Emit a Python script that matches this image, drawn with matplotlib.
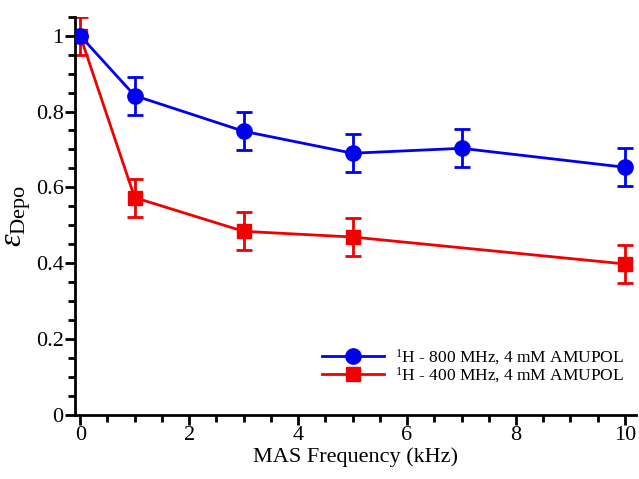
import numpy as np
import matplotlib
matplotlib.use('Agg')
import matplotlib.pyplot as plt
from matplotlib.lines import Line2D
from matplotlib.ticker import MultipleLocator, FuncFormatter

plt.rcParams['font.family'] = ['Liberation Serif', 'DejaVu Serif']
plt.rcParams['mathtext.fontset'] = 'custom'
plt.rcParams['mathtext.rm'] = 'Liberation Serif'
plt.rcParams['mathtext.it'] = 'Liberation Serif:italic'

# data
freq_800 = [0, 1, 3, 5, 7, 10]
eps_800 = [1.0, 0.842, 0.748, 0.690, 0.703, 0.653]
err_800 = [0.0, 0.05, 0.05, 0.05, 0.05, 0.05]

freq_400 = [0, 1, 3, 5, 10]
eps_400 = [1.0, 0.573, 0.484, 0.469, 0.398]
err_400 = [0.05, 0.05, 0.05, 0.05, 0.05]

label_800 = r'$^{1}$H - 800 MHz, 4 mM AMUPOL'
label_400 = r'$^{1}$H - 400 MHz, 4 mM AMUPOL'

blue = '#0000f0'
red = '#f00000'

fig = plt.figure(figsize=(6.39, 4.79), dpi=100)
ax = fig.add_axes([0.117, 0.134, 0.878, 0.831])

ax.errorbar(freq_800, eps_800, yerr=err_800, color=blue, marker='o', markersize=11,
            linewidth=2, elinewidth=2, capsize=6, capthick=2, zorder=3)
ax.errorbar(freq_400, eps_400, yerr=err_400, color=red, marker='s', markersize=10,
            linewidth=2, elinewidth=2, capsize=6, capthick=2, zorder=2)

ax.set_xlim(-0.1, 10.2)
ax.set_ylim(0, 1.05)
ax.xaxis.set_major_locator(MultipleLocator(2))
ax.xaxis.set_minor_locator(MultipleLocator(0.5))
ax.yaxis.set_major_locator(MultipleLocator(0.2))
ax.yaxis.set_minor_locator(MultipleLocator(0.05))
ax.yaxis.set_major_formatter(FuncFormatter(lambda v, p: '%g' % round(v, 2)))

ax.spines['top'].set_visible(False)
ax.spines['right'].set_visible(False)
ax.spines['left'].set_linewidth(2)
ax.spines['bottom'].set_linewidth(2)
ax.tick_params(which='major', direction='out', length=7, width=2, labelsize=16, pad=1)
ax.tick_params(which='minor', direction='out', length=5, width=2)

ax.set_xlabel('MAS Frequency (kHz)', fontsize=16, labelpad=2)
ax.set_ylabel(r'$\varepsilon_{\mathrm{Depo}}$', fontsize=23, labelpad=2)

handles = [Line2D([], [], color=blue, marker='o', markersize=11, linewidth=2),
           Line2D([], [], color=red, marker='s', markersize=10, linewidth=2)]
ax.legend(handles, [label_800, label_400], loc='lower right', bbox_to_anchor=(1.0, 0.045),
          frameon=False, fontsize=12.5, handlelength=3.6, handletextpad=0.6,
          labelspacing=-0.1, borderpad=0.2)

plt.savefig('out.png', dpi=100)
